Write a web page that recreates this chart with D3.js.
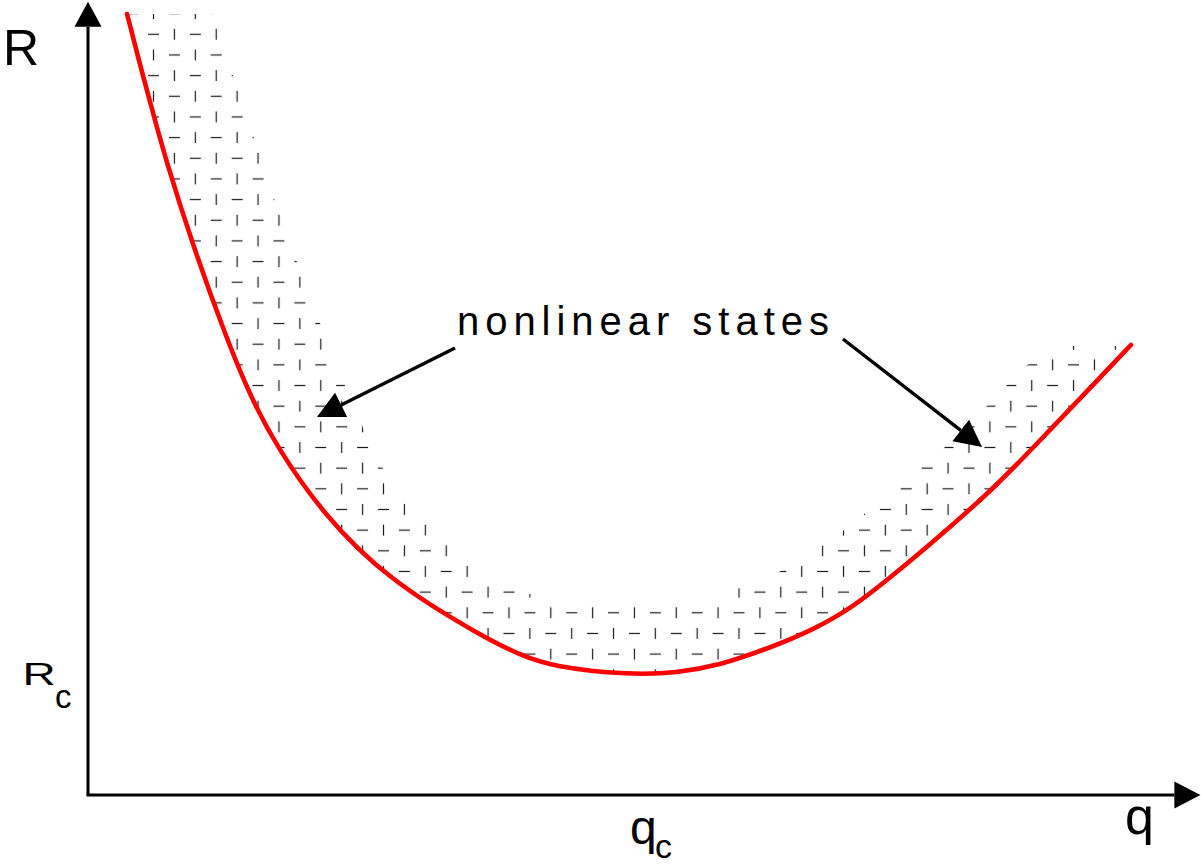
<!DOCTYPE html>
<html>
<head>
<meta charset="utf-8">
<script src="https://cdn.jsdelivr.net/npm/d3@7"></script>
<style>
  html, body { margin: 0; padding: 0; background: #fff; }
  svg { display: block; }
  text { font-family: "Liberation Sans", Arial, Helvetica, sans-serif; fill: #000; }
</style>
</head>
<body>
<svg id="chart" width="1201" height="866"></svg>
<script>
// Neutral stability curve R(q)
const curveQ = [0.217, 0.311, 0.372, 0.433, 0.572, 0.772, 0.911, 1.050, 1.300, 1.667,
                2.194, 2.400, 2.583, 3.011, 3.272, 3.511, 3.772, 4.028, 4.250, 4.439,
                4.622, 5.028, 5.344, 5.583, 5.794];
const curveR = [6.508, 5.958, 5.625, 5.292, 4.625, 3.792, 3.292, 2.900, 2.350, 1.792,
                1.317, 1.167, 1.067, 1.000, 1.017, 1.083, 1.217, 1.375, 1.567, 1.792,
                2.017, 2.542, 3.042, 3.417, 3.750];

// Outer edge of the band of nonlinear states (left to right)
const bandQ = [0.689, 0.806, 0.922, 1.036, 1.161, 1.289, 1.428, 1.483, 1.528, 1.589,
               1.639, 1.694, 1.800, 1.917, 2.039, 2.156, 2.428, 2.622, 3.428, 3.622,
               3.839, 4.039, 4.194, 4.339, 4.478, 4.622, 4.756, 4.844, 4.989, 5.100,
               5.217, 5.411, 5.794];
const bandR = [6.508, 5.992, 5.475, 4.958, 4.442, 3.933, 3.408, 3.233, 3.058, 2.892,
               2.717, 2.550, 2.375, 2.200, 2.025, 1.858, 1.683, 1.625, 1.625, 1.725,
               1.858, 2.033, 2.200, 2.375, 2.550, 2.725, 2.892, 3.058, 3.233, 3.408,
               3.583, 3.742, 3.742];

// Critical point (minimum of the neutral curve)
const criticalQ = 3.0;
const criticalR = 1.0;

// Axis extents
const qMax = 6.18;
const rMax = 6.61;

// Annotation: label position, arrow tails and arrow tips
const labelText = "nonlinear states";
const labelPos = [3.083, 3.833];
const arrowFromQ = [2.039, 4.194];
const arrowFromR = [3.725, 3.800];
const arrowToQ = [1.272, 4.967];
const arrowToR = [3.150, 2.900];

const svg = d3.select("#chart");

const x = d3.scaleLinear().domain([0, 6]).range([88, 1168]);
const y = d3.scaleLinear().domain([0, 6]).range([795, 75]);

// Brick-like hatch texture of alternating dashes and ticks
const tileW = 41.82, tileH = 41.32, half = tileW / 2, markL = 11;
const defs = svg.append("defs");
const pat = defs.append("pattern")
  .attr("id", "hatch")
  .attr("patternUnits", "userSpaceOnUse")
  .attr("x", 143.05).attr("y", 23.97)
  .attr("width", tileW).attr("height", tileH);
const rowY = [tileH / 4, tileH * 3 / 4];
const cx0 = half / 2, cx1 = half / 2 + half;
const marks = [
  {x1: cx0 - markL / 2, y1: rowY[0], x2: cx0 + markL / 2, y2: rowY[0]},
  {x1: cx1, y1: rowY[0] - markL / 2, x2: cx1, y2: rowY[0] + markL / 2},
  {x1: cx0, y1: rowY[1] - markL / 2, x2: cx0, y2: rowY[1] + markL / 2},
  {x1: cx1 - markL / 2, y1: rowY[1], x2: cx1 + markL / 2, y2: rowY[1]}
];
pat.selectAll("line").data(marks).join("line")
  .attr("x1", d => d.x1).attr("y1", d => d.y1)
  .attr("x2", d => d.x2).attr("y2", d => d.y2)
  .attr("stroke", "#1a1a1a").attr("stroke-width", 1.2);

const curvePts = curveQ.map((q, i) => [q, curveR[i]]);
const bandPts = bandQ.map((q, i) => [q, bandR[i]]);

const smoothLine = d3.line().x(d => x(d[0])).y(d => y(d[1])).curve(d3.curveBasis);
const straightLine = d3.line().x(d => x(d[0])).y(d => y(d[1]));

// Hatched band between the neutral curve and its outer edge
const bandPath = smoothLine(curvePts) + "L" +
  straightLine(bandPts.slice().reverse()).slice(1) + "Z";
svg.append("path")
  .attr("d", bandPath)
  .attr("fill", "url(#hatch)")
  .attr("stroke", "none");

// Arrowhead helper: filled triangle pointing at tip, coming from `from`
function arrowHead(tip, from, len, halfW) {
  const dx = tip[0] - from[0], dy = tip[1] - from[1];
  const n = Math.hypot(dx, dy), ux = dx / n, uy = dy / n;
  const bx = tip[0] - ux * len, by = tip[1] - uy * len;
  return {
    base: [bx, by],
    d: `M${tip[0]},${tip[1]}L${bx - uy * halfW},${by + ux * halfW}L${bx + uy * halfW},${by - ux * halfW}Z`
  };
}

// Axes
const origin = [x(0), y(0)];
const yTip = [x(0), y(rMax)];
const xTip = [x(qMax), y(0)];
const yHead = arrowHead(yTip, origin, 25, 13.5);
const xHead = arrowHead(xTip, origin, 26, 13.5);
svg.append("line")
  .attr("x1", origin[0]).attr("y1", origin[1])
  .attr("x2", yHead.base[0]).attr("y2", yHead.base[1])
  .attr("stroke", "#000").attr("stroke-width", 3);
svg.append("line")
  .attr("x1", origin[0] - 1.5).attr("y1", origin[1])
  .attr("x2", xHead.base[0]).attr("y2", xHead.base[1])
  .attr("stroke", "#000").attr("stroke-width", 3);
svg.append("path").attr("d", yHead.d).attr("fill", "#000");
svg.append("path").attr("d", xHead.d).attr("fill", "#000");

// Neutral curve
svg.append("path")
  .datum(curvePts)
  .attr("d", smoothLine)
  .attr("fill", "none")
  .attr("stroke", "#ff0000")
  .attr("stroke-width", 4.6)
  .attr("stroke-linecap", "round")
  .attr("stroke-linejoin", "round");

// Annotation arrows
arrowFromQ.forEach((q, i) => {
  const from = [x(q), y(arrowFromR[i])];
  const tip = [x(arrowToQ[i]), y(arrowToR[i])];
  const head = arrowHead(tip, from, 27, 13.6);
  svg.append("line")
    .attr("x1", from[0]).attr("y1", from[1])
    .attr("x2", head.base[0]).attr("y2", head.base[1])
    .attr("stroke", "#000").attr("stroke-width", 3.4);
  svg.append("path").attr("d", head.d).attr("fill", "#000");
});

svg.append("text")
  .attr("x", x(labelPos[0])).attr("y", y(labelPos[1]))
  .attr("text-anchor", "middle")
  .attr("font-size", 40)
  .attr("textLength", 372)
  .attr("lengthAdjust", "spacing")
  .text(labelText);

// Axis titles
svg.append("text").attr("x", 3).attr("y", 65).attr("font-size", 50).text("R");
svg.append("text").attr("x", 1125).attr("y", 834).attr("font-size", 52).text("q");

// Critical values on the axes
const qcX = x(criticalQ);
svg.append("text").attr("x", qcX + 2).attr("y", 844).attr("font-size", 48).text("q");
svg.append("text").attr("x", qcX + 27).attr("y", 858).attr("font-size", 34).text("c");

const rcY = y(criticalR);
svg.append("text")
  .attr("transform", `translate(22.4,${rcY + 10}) scale(1,0.68)`)
  .attr("font-size", 46).text("R");
svg.append("text").attr("x", 55).attr("y", rcY + 33).attr("font-size", 33).text("c");
</script>
</body>
</html>
